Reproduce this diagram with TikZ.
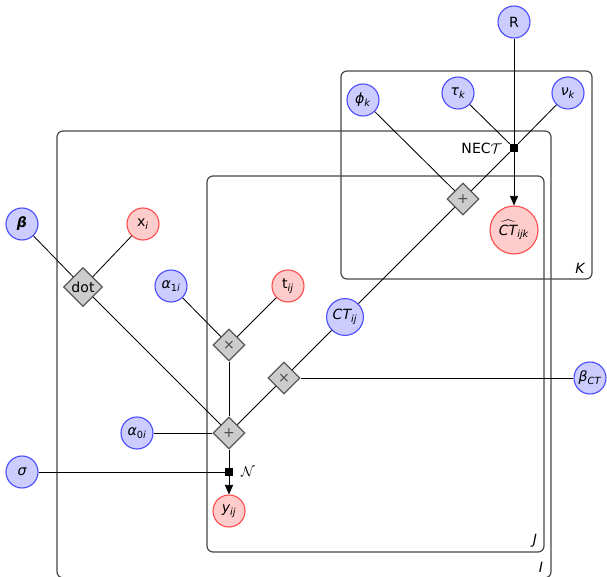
\documentclass[tikz,border=0pt]{standalone}
\usepackage{amsmath}
\usepackage{fontspec}
\setmainfont{DejaVu Sans}
\usetikzlibrary{shapes.geometric,arrows.meta}

\begin{document}
\begin{tikzpicture}[
    obs/.style={circle, draw=red!70, fill=red!20, line width=0.8pt, inner sep=0pt, minimum size=0.8cm},
    par/.style={circle, draw=blue!70, fill=blue!20, line width=0.8pt, inner sep=0pt, minimum size=0.8cm},
    op/.style={diamond, draw=black!65, fill=black!20, text=black!70, line width=0.8pt, inner sep=0pt, minimum size=0.8cm},
    fac/.style={rectangle, fill=black, inner sep=0pt, minimum size=0.2cm},
    plate/.style={draw=black!72, line width=0.85pt, rounded corners=0.15cm},
    edge/.style={line width=0.6pt},
    arr/.style={edge, -{Triangle[width=5.8pt,length=6.8pt]}},
    ]
    \useasboundingbox (0,0) rectangle (15.175,14.425);

    % draw plates
    \draw[plate] (8.525,7.45) rectangle (14.8,12.65);
    \draw[plate] (1.425,-0.02) rectangle (13.775,11.15);
    \draw[plate] (5.175,0.625) rectangle (13.6,10.025);
    \node at (14.5,7.725) {\itshape K};
    \node at (13.525,0.25) {\itshape I};
    \node at (13.375,0.9) {\itshape J};

    % draw nodes
    \node[par] (R) at (12.85,13.875) {R};
    \node[par] (phik) at (9.075,11.925) {\itshape ϕ\textsubscript{k}};
    \node[par] (tauk) at (11.45,12.1) {\itshape τ\textsubscript{k}};
    \node[par] (nuk) at (14.2,12.1) {\itshape ν\textsubscript{k}};
    \node[fac] (nect) at (12.85,10.725) {};
    \node[left=2pt] at (nect.west) {NEC$\mathcal{T}$};
    \node[op] (plusk) at (11.575,9.45) {+};
    \node[obs, minimum size=1.2cm] (cthat) at (12.85,8.675) {$\widehat{\text{\itshape CT}}_{\text{\itshape ijk}}$};

    \node[par] (beta) at (0.55,8.825) {\bfseries\itshape β};
    \node[obs] (xi) at (3.575,8.825) {x\textsubscript{\itshape i}};
    \node[op, minimum size=0.975cm, text=black] (dot) at (2.075,7.25) {dot};
    \node[par] (alphaone) at (4.275,7.275) {\itshape α\textsubscript{\upshape 1\itshape i}};
    \node[obs] (tij) at (7.2,7.275) {t\textsubscript{\itshape ij}};
    \node[par, minimum size=0.92cm] (ctij) at (8.625,6.5) {\itshape CT\textsubscript{ij}};
    \node[op] (timesone) at (5.725,5.8) {×};
    \node[op] (timestwo) at (7.1,4.975) {×};
    \node[par] (betact) at (14.75,4.975) {\itshape β\textsubscript{CT}};
    \node[par] (alphazero) at (3.425,3.6) {\itshape α\textsubscript{\upshape 0\itshape i}};
    \node[op] (plus) at (5.725,3.6) {+};
    \node[par] (sigma) at (0.55,2.625) {\itshape σ};
    \node[fac] (normal) at (5.725,2.625) {};
    \node[right=2pt] at (normal.east) {$\mathcal{N}$};
    \node[obs] (yij) at (5.725,1.65) {\itshape y\textsubscript{ij}};

    % draw edges
    \draw[edge] (beta) -- (dot);
    \draw[edge] (xi) -- (dot);
    \draw[edge] (dot) -- (plus);
    \draw[edge] (alphaone) -- (timesone);
    \draw[edge] (tij) -- (timesone);
    \draw[edge] (timesone) -- (plus);
    \draw[edge] (ctij) -- (timestwo);
    \draw[edge] (betact) -- (timestwo);
    \draw[edge] (timestwo) -- (plus);
    \draw[edge] (alphazero) -- (plus);
    \draw[edge] (plus) -- (normal);
    \draw[edge] (sigma) -- (normal);
    \draw[arr] (normal) -- (yij);
    \draw[edge] (ctij) -- (plusk);
    \draw[edge] (phik) -- (plusk);
    \draw[edge] (plusk) -- (nect);
    \draw[edge] (tauk) -- (nect);
    \draw[edge] (nuk) -- (nect);
    \draw[edge] (R) -- (nect);
    \draw[arr] (nect) -- (cthat);
\end{tikzpicture}
\end{document}
